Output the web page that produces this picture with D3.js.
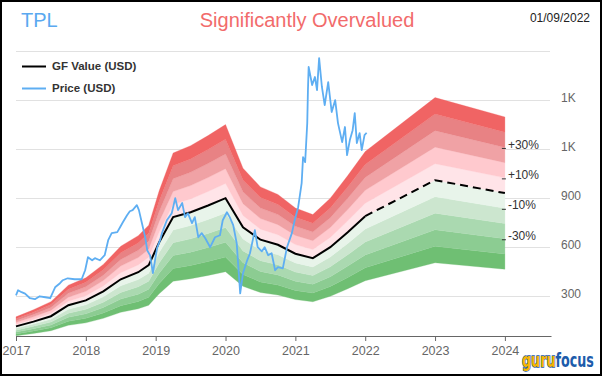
<!DOCTYPE html>
<html>
<head>
<meta charset="utf-8">
<script src="https://cdn.jsdelivr.net/npm/d3@7/dist/d3.min.js"></script>
<style>
  html, body { margin: 0; padding: 0; background: #fff; }
  svg { display: block; }
</style>
</head>
<body>
<svg id="chart" width="602" height="376"></svg>
<script>
// ---------------- DATA ----------------
const ticker = "TPL";
const verdict = "Significantly Overvalued";
const dateLabel = "01/09/2022";
const xTickYears = [2017, 2018, 2019, 2020, 2021, 2022, 2023, 2024];
const yTickValues = [300, 600, 900, 1200, 1500, 1800];
const yTickLabels = ["300", "600", "900", "1K", "1K", ""];
const bandSteps = [-0.5, -0.4, -0.3, -0.2, -0.1, 0, 0.1, 0.2, 0.3, 0.4, 0.5];
const bandColors = ["#6fbf73", "#8ccc92", "#aad9b0", "#cce6cf", "#e8f4ea",
                    "#ffe4e8", "#ffc9ce", "#f0a2a5", "#e88284", "#f06464"];
const bandLabels = ["+30%", "+10%", "-10%", "-30%"];
const bandLabelSteps = [0.3, 0.1, -0.1, -0.3];

// GF Value knots [year, value]
const gfHistory = [
  [2017.0,116],[2017.25,145],[2017.5,178],[2017.75,245],[2018.0,275],[2018.25,330],
  [2018.5,404],[2018.75,447],[2018.9,490],[2019.05,630],[2019.25,784],[2019.5,814],
  [2019.75,855],[2020.0,900],[2020.25,722],[2020.5,646],[2020.75,615],[2021.0,560],
  [2021.25,533],[2021.5,600],[2021.75,692],[2022.0,790]
];
const gfFuture = [[2022.0,790],[2023.0,1010],[2024.0,931]];

// Price [year, value]
const price = [
  [2017.00,306],[2017.03,337],[2017.08,325],[2017.13,316],[2017.20,288],[2017.27,282],
  [2017.34,300],[2017.42,294],[2017.49,288],[2017.56,355],[2017.63,380],[2017.67,398],
  [2017.74,410],[2017.84,404],[2017.94,404],[2017.99,459],[2018.03,539],[2018.09,520],
  [2018.13,533],[2018.20,520],[2018.27,551],[2018.32,643],[2018.37,686],[2018.45,692],
  [2018.49,722],[2018.53,753],[2018.59,796],[2018.63,820],[2018.67,827],[2018.73,857],
  [2018.76,827],[2018.80,753],[2018.85,660],[2018.88,580],[2018.92,550],[2018.96,441],
  [2019.02,595],[2019.06,640],[2019.09,686],[2019.16,765],[2019.23,808],[2019.28,900],
  [2019.32,827],[2019.38,870],[2019.42,784],[2019.46,808],[2019.52,747],[2019.56,784],
  [2019.61,661],[2019.66,686],[2019.71,655],[2019.78,600],[2019.85,661],[2019.92,673],
  [2019.96,765],[2020.02,814],[2020.06,784],[2020.11,735],[2020.16,624],[2020.21,318],
  [2020.25,441],[2020.31,520],[2020.35,563],[2020.39,643],[2020.42,704],[2020.46,600],
  [2020.52,575],[2020.56,600],[2020.61,551],[2020.66,563],[2020.71,459],[2020.75,478],
  [2020.82,471],[2020.88,600],[2020.95,686],[2020.99,765],[2021.04,845],[2021.09,992],
  [2021.11,1151],[2021.14,1120],[2021.17,1359],[2021.18,1561],[2021.19,1702],[2021.24,1592],
  [2021.28,1641],[2021.31,1561],[2021.34,1757],[2021.38,1580],[2021.42,1469],[2021.47,1610],
  [2021.52,1427],[2021.57,1500],[2021.61,1359],[2021.67,1243],[2021.71,1335],[2021.74,1163],
  [2021.78,1255],[2021.82,1316],[2021.85,1420],[2021.88,1237],[2021.92,1298],[2021.95,1194],
  [2021.99,1286],[2022.02,1300]
];

// ---------------- CHART ----------------
const svg = d3.select("#chart");
const W = 602, H = 376;
const x = d3.scaleLinear().domain([2017, 2024.66]).range([16, 551]);
const y = d3.scaleLinear().domain([57, 1800]).range([336, 51]);

const gfAll = gfHistory.concat(gfFuture.slice(1));

// gridlines
svg.append("g").selectAll("line").data(yTickValues).join("line")
  .attr("x1", 16).attr("x2", 550)
  .attr("y1", d => Math.round(y(d)) + 0.5).attr("y2", d => Math.round(y(d)) + 0.5)
  .attr("stroke", "#e1e1e1").attr("stroke-width", 1);

// y labels
svg.append("g").selectAll("text").data(yTickValues).join("text")
  .attr("x", 561).attr("y", d => y(d) - 1)
  .attr("dominant-baseline", "middle")
  .attr("font-family", "Liberation Sans, Arial, sans-serif")
  .attr("font-size", 12).attr("fill", "#666")
  .text((d, i) => yTickLabels[i]);

// bands
const bandG = svg.append("g");
for (let i = 0; i < bandSteps.length - 1; i++) {
  const lo = bandSteps[i], hi = bandSteps[i + 1];
  const area = d3.area()
    .x(d => x(d[0]))
    .y0(d => y(d[1] * (1 + lo)))
    .y1(d => y(d[1] * (1 + hi)));
  bandG.append("path").datum(gfAll).attr("d", area)
    .attr("fill", bandColors[i]).attr("stroke", bandColors[i]).attr("stroke-width", 0.3);
}

// x axis
const xAxis = d3.axisBottom(x).tickValues(xTickYears).tickFormat(d3.format("d"))
  .tickSize(5).tickSizeOuter(0);
const xg = svg.append("g").attr("transform", "translate(0,336)").call(xAxis);
xg.select(".domain").attr("stroke", "#666").attr("stroke-width", 1.2);
xg.selectAll(".tick line").attr("stroke", "#666");
xg.selectAll(".tick text").attr("fill", "#666")
  .attr("font-family", "Liberation Sans, Arial, sans-serif")
  .attr("font-size", 12.5).attr("dy", "0.9em");

// GF value line
const line = d3.line().x(d => x(d[0])).y(d => y(d[1]));
svg.append("path").datum(gfHistory).attr("d", line)
  .attr("fill", "none").attr("stroke", "#000").attr("stroke-width", 2);
svg.append("path").datum(gfFuture).attr("d", line)
  .attr("fill", "none").attr("stroke", "#000").attr("stroke-width", 2)
  .attr("stroke-dasharray", "8,5");

// price line
svg.append("path").datum(price).attr("d", line)
  .attr("fill", "none").attr("stroke", "#5eaef2").attr("stroke-width", 1.8)
  .attr("stroke-linejoin", "round");

// band labels at right end
const lastGF = gfFuture[gfFuture.length - 1];
const lab = svg.append("g");
bandLabelSteps.forEach((s, i) => {
  const yy = y(lastGF[1] * (1 + s));
  lab.append("line").attr("x1", x(lastGF[0]) - 3).attr("x2", x(lastGF[0]) + 1)
    .attr("y1", yy + 1).attr("y2", yy + 1).attr("stroke", "#333").attr("stroke-width", 1);
  lab.append("text").attr("x", x(lastGF[0]) + 3).attr("y", yy - 2)
    .attr("dominant-baseline", "middle")
    .attr("font-family", "Liberation Sans, Arial, sans-serif")
    .attr("font-size", 12).attr("fill", "#333").text(bandLabels[i]);
});

// title texts
svg.append("text").attr("x", 21).attr("y", 27)
  .attr("font-family", "Liberation Sans, Arial, sans-serif")
  .attr("font-size", 20).attr("fill", "#5aa9f0").text(ticker);
svg.append("text").attr("x", 307).attr("y", 27).attr("text-anchor", "middle")
  .attr("font-family", "Liberation Sans, Arial, sans-serif")
  .attr("font-size", 20).attr("fill", "#f26b6b").text(verdict);
svg.append("text").attr("x", 590).attr("y", 22).attr("text-anchor", "end")
  .attr("font-family", "Liberation Sans, Arial, sans-serif")
  .attr("font-size", 12).attr("fill", "#222").text(dateLabel);

// legend
const leg = svg.append("g");
const legItems = [["GF Value (USD)", "#000", 66.5], ["Price (USD)", "#5eaef2", 88.5]];
legItems.forEach(([t, c, yy]) => {
  leg.append("line").attr("x1", 22).attr("x2", 46).attr("y1", yy).attr("y2", yy)
    .attr("stroke", c).attr("stroke-width", 2);
  leg.append("text").attr("x", 52).attr("y", yy).attr("dominant-baseline", "middle")
    .attr("font-family", "Liberation Sans, Arial, sans-serif").attr("font-weight", "bold")
    .attr("font-size", 11.5).attr("fill", "#333").text(t);
});

// logo: scaled to fit its box
const logoG = svg.append("g");
const logo = logoG.append("text").attr("x", 0).attr("y", 0)
  .attr("font-family", "DejaVu Sans Condensed, DejaVu Sans, sans-serif")
  .attr("font-weight", "bold").attr("font-size", 15);
logo.append("tspan").text("guru").attr("fill", "#f7b500")
  .attr("stroke", "#1d5cab").attr("stroke-width", 1.1).attr("paint-order", "stroke");
logo.append("tspan").text("focus").attr("fill", "#1d5cab");
const lw = logo.node().getComputedTextLength();
const sx = 72 / lw;
logoG.attr("transform", `translate(522,367) scale(${sx},1.25)`);

// border
svg.append("rect").attr("x", 1).attr("y", 1).attr("width", W - 2).attr("height", H - 2)
  .attr("fill", "none").attr("stroke", "#000").attr("stroke-width", 2);
</script>
</body>
</html>
